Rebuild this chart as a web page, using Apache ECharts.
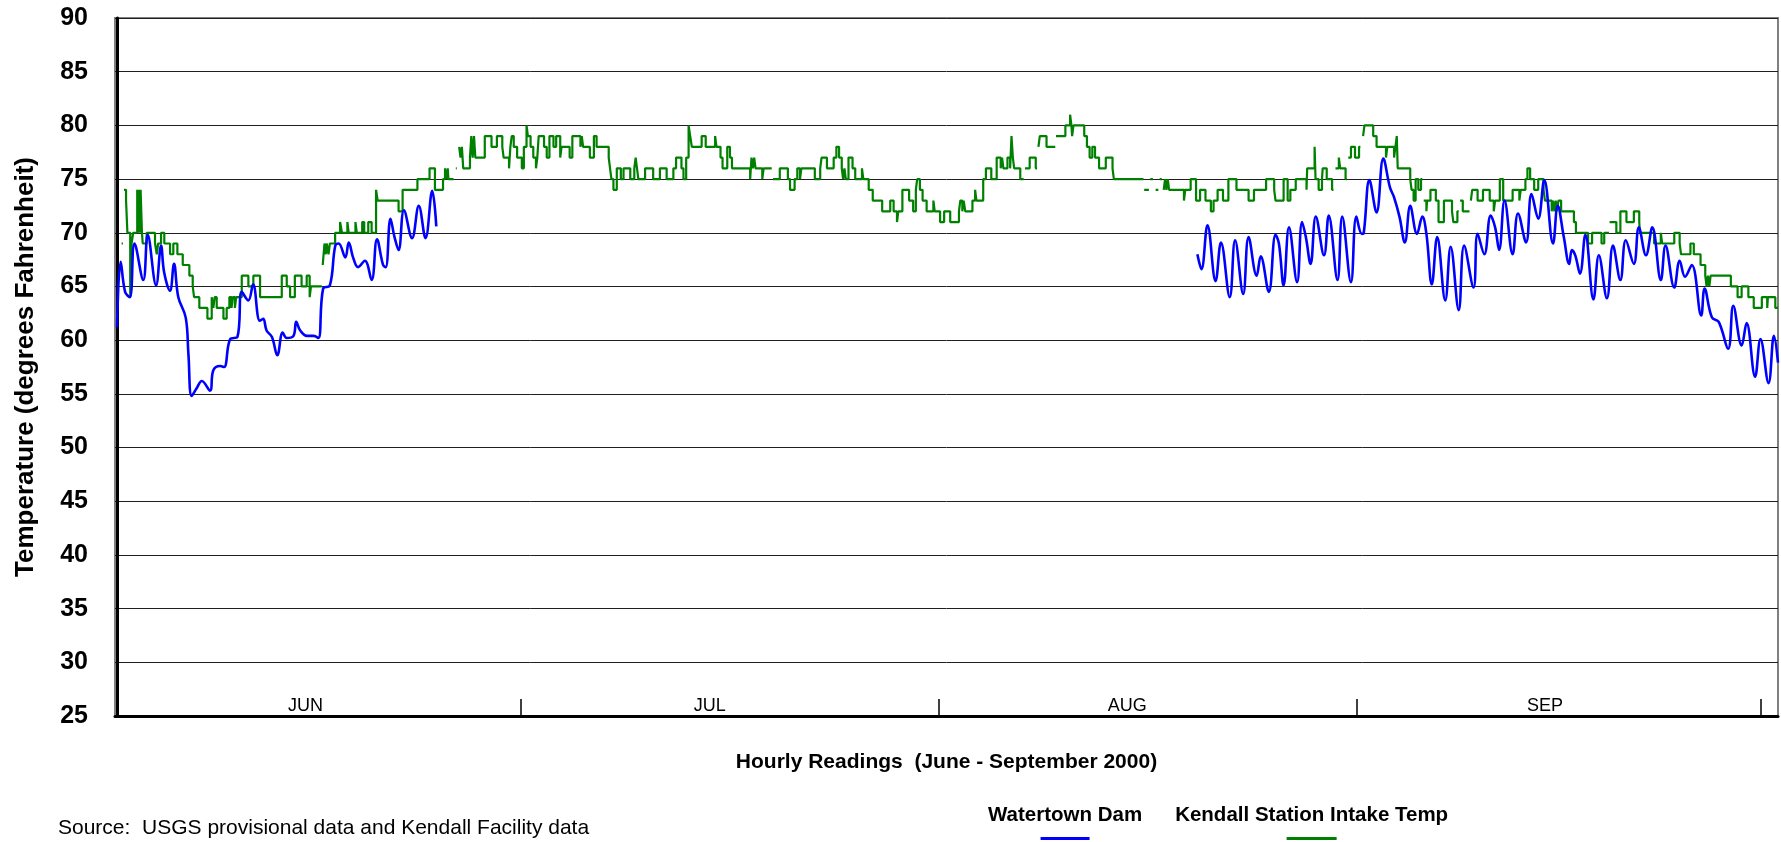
<!DOCTYPE html>
<html>
<head>
<meta charset="utf-8">
<title>Watertown Dam and Kendall Station intake temperature, June - September 2000</title>
<script src="https://cdn.jsdelivr.net/npm/echarts@6/dist/echarts.min.js"></script>
<style>
  html, body { margin: 0; padding: 0; background: #fff; }
  #chart { width: 1781px; height: 842px; }
</style>
</head>
<body>
<div id="chart"></div>
<script>
// [day since 1 June 2000, deg F]; null = no reading
const watertownDam = [
  [0.0, 61.2], [0.27, 67.3], [0.6, 64.5], [0.95, 64.0], [1.3, 69.0], [1.95, 65.6], [2.28, 69.8], [2.9, 65.1],
  [3.27, 68.8], [3.5, 66.3], [3.93, 64.6], [4.23, 67.1], [4.55, 64.0], [5.1, 62.1], [5.3, 58.7], [5.54, 54.8],
  [5.9, 55.5], [6.3, 56.2], [6.9, 55.3], [7.15, 57.2], [7.65, 57.6], [7.95, 57.5], [8.4, 60.1], [8.94, 60.3],
  [9.26, 64.5], [9.75, 63.7], [10.1, 65.2], [10.6, 61.8], [10.85, 62.0], [11.1, 60.9], [11.5, 60.3], [11.9, 58.6],
  [12.3, 60.7], [12.6, 60.2], [13.1, 60.4], [13.3, 61.7], [13.6, 60.9], [14.1, 60.4], [14.6, 60.4], [14.95, 60.2],
  [15.3, 64.8], [15.8, 65.1], [16.2, 68.8], [16.45, 69.0], [16.95, 67.7], [17.2, 69.1], [17.55, 67.6], [17.9, 66.8],
  [18.4, 67.4], [18.9, 65.6], [19.3, 69.4], [19.75, 67.0], [19.95, 66.8], [20.3, 71.3], [20.6, 69.6], [20.9, 68.4],
  [21.3, 72.1], [21.9, 69.5], [22.4, 72.5], [22.9, 69.5], [23.4, 73.9], [23.7, 70.6],
  [50.0, null],
  [80.2, 68.0], [80.5, 66.6], [80.95, 70.7], [81.55, 65.5], [81.95, 69.1], [82.6, 64.0], [83.0, 69.3], [83.6, 64.3],
  [84.0, 69.6], [84.6, 66.0], [84.9, 67.8], [85.5, 64.5], [86.0, 69.8], [86.25, 69.0], [86.6, 65.1], [87.0, 70.5],
  [87.6, 65.4], [87.97, 71.0], [88.25, 69.6], [88.6, 67.1], [88.99, 71.5], [89.6, 67.9], [89.95, 71.6], [90.6, 65.6],
  [90.95, 71.5], [91.6, 65.4], [92.0, 71.5], [92.4, 69.9], [92.55, 70.0], [92.97, 74.9], [93.5, 71.9], [94.0, 76.9],
  [94.5, 74.2], [94.8, 73.3], [95.2, 71.5], [95.6, 69.1], [96.0, 72.5], [96.5, 69.9], [96.9, 71.5], [97.2, 69.9],
  [97.6, 65.2], [98.0, 69.6], [98.6, 63.7], [99.0, 68.7], [99.6, 62.8], [100.0, 68.8], [100.7, 64.9], [101.0, 69.9],
  [101.5, 68.0], [101.97, 71.6], [102.3, 70.5], [102.6, 68.4], [103.0, 73.0], [103.6, 68.0], [104.0, 71.8], [104.6, 69.1],
  [105.0, 73.6], [105.5, 71.3], [105.95, 74.9], [106.6, 69.0], [106.95, 72.5], [107.4, 69.6], [107.8, 67.1], [108.0, 68.4],
  [108.25, 67.9], [108.6, 66.2], [109.0, 69.8], [109.6, 63.8], [110.0, 67.9], [110.6, 63.9], [111.05, 68.8], [111.6, 65.6],
  [112.0, 69.3], [112.6, 67.1], [112.97, 70.5], [113.5, 67.9], [113.97, 70.5], [114.6, 65.6], [114.95, 68.8], [115.6, 64.9],
  [116.0, 67.4], [116.4, 65.9], [116.9, 67.0], [117.6, 62.3], [117.85, 64.8], [118.4, 62.1], [118.9, 61.7], [119.6, 59.2],
  [119.98, 63.2], [120.6, 59.5], [120.97, 61.6], [121.6, 56.6], [122.0, 60.1], [122.6, 56.0], [123.0, 60.4], [123.3, 57.9]
];

// intake readings are whole degrees: each entry holds until the next one
const kendallIntake = [
  [0.34, 69], [0.44, null], [0.52, 74], [0.67, 73], [0.77, 70], [0.98, 64], [1.08, 69], [1.2, 70], [1.5, 74], [1.55, 70],
  [1.62, 74], [1.7, 70], [1.75, 74], [1.85, 70], [1.91, 69], [2.2, 70], [2.82, 69], [2.95, 68], [3.05, 69], [3.27, 70],
  [3.51, 69], [3.94, 68], [4.18, 69], [4.48, 68], [4.88, 67], [5.37, 66], [5.62, 65], [5.72, 64], [6.11, 63], [6.71, 62],
  [7.03, 64], [7.15, 63], [7.25, 64], [7.4, 63], [7.9, 62], [8.14, 63], [8.34, 64], [8.5, 63], [8.6, 64], [8.75, 63],
  [8.85, 64], [9.26, 66], [9.75, 65], [10.12, 66], [10.62, 64], [12.23, 66], [12.6, 65], [12.85, 64], [13.2, 66], [13.7, 65],
  [14.08, 66], [14.3, 64], [14.4, 65], [15.2, null], [15.27, 67], [15.4, 69], [15.5, 68], [15.57, 69], [15.7, 68], [15.8, 69],
  [16.19, 70], [16.56, 71], [16.7, 70], [17.1, 71], [17.2, 70], [17.7, 71], [17.8, 70], [18.2, 71], [18.35, 70], [18.65, 71],
  [18.9, 70], [19.23, 74], [19.35, 73], [20.9, 72], [21.2, 74], [22.3, 75], [23.2, 76], [23.6, 74], [24.2, 75], [24.35, 76],
  [24.45, 75], [24.55, 76], [24.6, 75], [24.98, null], [25.15, 76], [25.22, null], [25.4, 78], [25.5, 77], [25.6, 78], [25.7, 76],
  [26.2, 77], [26.3, 79], [26.4, 77], [26.5, 79], [26.6, 77], [27.3, 79], [27.8, 78], [28.2, 79], [28.6, 78], [28.7, 77],
  [29.1, 76], [29.2, 78], [29.3, 79], [29.45, 78], [29.7, 77], [30.05, 76], [30.2, 78], [30.4, 80], [30.5, 79], [30.7, 78],
  [30.9, 77], [31.1, 76], [31.2, 77], [31.3, 79], [31.7, 78], [31.9, 77], [32.1, 79], [32.4, 78], [32.6, 79], [32.9, 77],
  [33.0, 78], [33.6, 77], [33.8, 79], [34.4, 78], [34.5, 79], [34.6, 78], [35.1, 77], [35.4, 79], [35.6, 78], [36.5, 77],
  [36.6, 76], [36.7, 75], [36.85, 74], [37.1, 76], [37.4, 75], [37.6, 76], [38.1, 75], [38.4, 76], [38.5, 77], [38.6, 76],
  [38.7, 75], [39.2, 76], [39.8, 75], [40.3, 76], [40.8, 75], [41.3, 76], [41.5, 77], [41.9, 76], [42.05, 75], [42.25, 77],
  [42.43, 80], [42.55, 79], [42.67, 78], [43.4, 79], [43.7, 78], [44.4, 79], [44.5, 78], [44.8, 77], [44.95, 76], [45.3, 78],
  [45.5, 77], [45.65, 76], [47.0, 75], [47.1, 77], [47.2, 76], [47.3, 77], [47.4, 76], [47.9, 75], [48.0, 76], [48.6, null],
  [48.7, 75], [49.2, 76], [49.8, 75], [49.96, 74], [50.3, 75], [50.5, 76], [50.7, 75], [50.8, 76], [51.8, 75], [52.2, 76],
  [52.3, 77], [52.7, 76], [53.2, 77], [53.4, 78], [53.6, 77], [53.8, 76], [53.9, 75], [54.0, 76], [54.1, 75], [54.3, 77],
  [54.6, 76], [54.8, 75], [55.3, 76], [55.4, 75], [55.8, 74], [56.1, 73], [56.8, 72], [57.4, 73], [57.65, 72], [57.9, 71],
  [58.0, 72], [58.3, 74], [58.8, 73], [59.1, 72], [59.3, 74], [59.4, 75], [59.6, 74], [59.8, 73], [60.1, 72], [60.6, 73],
  [60.7, 72], [61.1, 71], [61.4, 72], [61.85, 71], [62.5, 72], [62.6, 73], [62.75, 72], [62.85, 73], [62.97, 72], [63.5, 73],
  [63.7, 74], [63.8, 73], [64.3, 75], [64.5, 76], [64.9, 75], [65.3, 77], [65.6, 76], [65.7, 77], [65.8, 76], [66.1, 77],
  [66.3, 76], [66.4, 79], [66.5, 77], [66.6, 76], [67.05, 75], [67.3, null], [67.4, 76], [67.75, 77], [68.2, 76], [68.3, null],
  [68.4, 78], [68.5, 79], [69.0, 78], [69.65, null], [69.7, 79], [70.4, 80], [70.75, 81], [70.85, 80], [70.9, 79], [71.0, 80],
  [71.8, 79], [72.0, 78], [72.2, 77], [72.4, 78], [72.6, 77], [72.9, 76], [73.4, 77], [73.9, 76], [74.0, 75], [76.2, null],
  [76.25, 74], [76.6, null], [76.7, 75], [76.9, null], [77.1, 74], [77.3, null], [77.4, 75], [77.55, null], [77.7, 74], [77.8, 75],
  [77.9, 74], [78.0, 75], [78.1, 74], [79.2, 73], [79.3, 74], [79.7, 75], [80.1, 73], [80.4, 74], [80.8, 73], [81.2, 72],
  [81.4, 73], [81.7, 74], [82.1, 73], [82.5, 75], [83.1, 74], [84.0, 73], [84.4, 74], [85.3, 75], [85.9, 74], [86.0, 73],
  [86.6, 75], [86.9, 73], [87.1, 74], [87.5, 75], [88.3, 74], [88.35, 76], [88.9, 78], [88.97, 75], [89.2, 74], [89.45, 75],
  [89.5, 76], [89.8, 75], [90.2, 74], [90.3, null], [90.45, 76], [90.7, 77], [90.8, 76], [91.2, 75], [91.3, null], [91.4, 77],
  [91.6, 78], [91.9, 77], [92.2, 78], [92.3, null], [92.5, 79], [92.6, 80], [93.25, 79], [93.5, 78], [94.2, 77], [94.3, 78],
  [94.8, 77], [94.9, 78], [95.0, 79], [95.07, 76], [96.0, 75], [96.1, 74], [96.25, 73], [96.4, 75], [96.6, 74], [96.8, 75],
  [96.9, null], [97.0, 73], [97.2, 72], [97.25, 73], [97.5, 74], [97.9, 73], [98.1, 71], [98.5, 73], [99.1, 72], [99.2, 71],
  [99.5, 72], [99.6, null], [99.7, 73], [99.9, 72], [100.4, null], [100.5, 73], [100.6, 74], [101.0, 73], [101.4, 74], [101.9, 73],
  [102.2, 72], [102.3, 73], [102.65, 75], [102.9, 73], [103.6, 74], [104.1, 73], [104.2, 74], [104.55, 75], [104.7, 76], [104.9, 75],
  [105.2, 74], [105.5, 75], [105.9, 74], [106.0, 73], [106.5, 72], [106.6, 73], [106.7, 72], [106.8, 73], [106.9, 72], [107.0, 73],
  [107.2, 72], [108.15, 71], [108.3, 70], [109.2, 69], [109.5, 70], [110.2, 69], [110.4, 70], [110.75, null], [110.8, 71], [111.3, 70],
  [111.6, 72], [112.05, 71], [112.6, 72], [113.0, 71], [113.05, 70], [114.1, 69], [114.6, 70], [114.7, 69], [115.6, 70], [116.0, 69],
  [116.1, 68], [116.8, 69], [117.05, 68], [117.55, 67], [117.9, 66], [118.0, 65], [118.1, 66], [118.2, 65], [118.3, 66], [119.8, 65],
  [120.3, 64], [120.6, 65], [121.1, 64], [121.5, 63], [122.1, 64], [122.5, 63], [122.55, 64], [123.1, 63], [123.3, 63]
];

const seriesNames = ['Watertown Dam', 'Kendall Station Intake Temp'];
const monthNames = ['JUN', 'JUL', 'AUG', 'SEP'];
const monthStartDays = [0, 30, 61, 92, 122];
// month names sit on the 15th of each month
const monthLabelDays = monthNames.map((m, i) => monthStartDays[i] + 14);

const FONT = '"Liberation Sans", Arial, sans-serif';

// null -> gap; for the step series the last level is held up to the gap
function toLineData(points, holdBeforeGap) {
  const out = [];
  let last = null;
  points.forEach(([d, t]) => {
    if (t === null) {
      if (holdBeforeGap && last !== null) out.push([d, last]);
      out.push([d, '-']);
    } else {
      out.push([d, t]);
    }
    last = t;
  });
  return out;
}

const chart = echarts.init(document.getElementById('chart'));

chart.setOption({
  animation: false,
  backgroundColor: '#fff',
  textStyle: { fontFamily: FONT, color: '#000' },
  title: {
    text: 'Source:  USGS provisional data and Kendall Facility data',
    left: 58,
    top: 818,
    padding: 0,
    textStyle: { fontFamily: FONT, fontSize: 21, fontWeight: 'normal', color: '#000' }
  },
  legend: {
    left: 983,
    top: 805,
    padding: 0,
    itemGap: 28,
    icon: 'rect',
    itemWidth: 0,
    itemHeight: 0,
    selectedMode: false,
    data: seriesNames,
    formatter: (name) => `{t|${name}}\n{${name === seriesNames[0] ? 'lb' : 'lg'}|\u00a0}`,
    textStyle: {
      fontFamily: FONT,
      rich: {
        t: { fontFamily: FONT, fontSize: 20.5, fontWeight: 'bold', color: '#000', lineHeight: 22, align: 'center' },
        lb: { width: 49, height: 3, lineHeight: 24, backgroundColor: '#0000ff', align: 'center', fontSize: 4 },
        lg: { width: 50, height: 3, lineHeight: 24, backgroundColor: '#008000', align: 'center', fontSize: 4 }
      }
    }
  },
  grid: {
    left: 115,
    right: 3,
    top: 18,
    bottom: 126,
    show: true,
    borderColor: '#808080',
    borderWidth: 2
  },
  xAxis: {
    type: 'value',
    min: -0.15,
    max: 123.3,
    name: 'Hourly Readings  (June - September 2000)',
    nameLocation: 'middle',
    nameGap: 36,
    nameTextStyle: { fontFamily: FONT, fontSize: 21, fontWeight: 'bold', color: '#000' },
    axisLine: { show: true, onZero: false, lineStyle: { color: '#000', width: 3 } },
    axisTick: {
      show: true,
      inside: true,
      length: 17,
      customValues: monthStartDays,
      lineStyle: { color: '#000', width: 1.5 }
    },
    axisLabel: {
      show: true,
      inside: true,
      margin: 1,
      customValues: monthLabelDays,
      formatter: (v) => monthNames[monthLabelDays.indexOf(v)] || '',
      fontFamily: FONT,
      fontSize: 18,
      color: '#000'
    },
    splitLine: { show: false }
  },
  yAxis: {
    type: 'value',
    min: 25,
    max: 90,
    interval: 5,
    name: 'Temperature (degrees Fahrenheit)',
    nameLocation: 'middle',
    nameGap: 76,
    nameRotate: 90,
    nameTextStyle: { fontFamily: FONT, fontSize: 26, fontWeight: 'bold', color: '#000' },
    axisLine: { show: true, lineStyle: { color: '#000', width: 3 } },
    axisTick: { show: false },
    axisLabel: { margin: 27, fontFamily: FONT, fontSize: 25, fontWeight: 'bold', color: '#000' },
    splitLine: { show: true, lineStyle: { color: '#1f1f1f', width: 1 } }
  },
  series: [
    {
      name: seriesNames[0],
      type: 'line',
      data: toLineData(watertownDam, false),
      smooth: 0.4,
      showSymbol: false,
      connectNulls: false,
      z: 3,
      itemStyle: { color: '#0000ff' },
      lineStyle: { color: '#0000ff', width: 2.6 }
    },
    {
      name: seriesNames[1],
      type: 'line',
      step: 'end',
      data: toLineData(kendallIntake, true),
      showSymbol: false,
      connectNulls: false,
      z: 2,
      itemStyle: { color: '#008000' },
      lineStyle: { color: '#008000', width: 2.2 }
    }
  ]
});
</script>
</body>
</html>
